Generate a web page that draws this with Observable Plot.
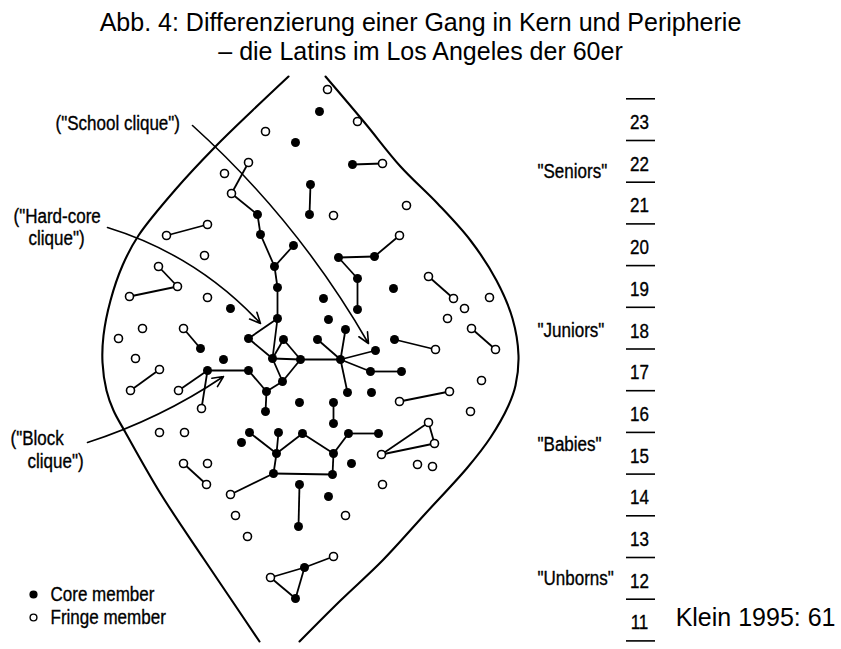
<!DOCTYPE html>
<html><head><meta charset="utf-8">
<script src="https://cdn.jsdelivr.net/npm/d3@7"></script>
<script src="https://cdn.jsdelivr.net/npm/@observablehq/plot@0.6"></script>
<style>
body{margin:0;background:#fff;width:841px;height:649px;overflow:hidden}
#title{font-family:"Liberation Sans",Arial,sans-serif;font-size:25px;line-height:29px;text-align:center;padding-top:8px;height:58px;color:#000}
#chart svg{display:block}
</style></head><body>
<div id="title">Abb. 4: Differenzierung einer Gang in Kern und Peripherie<br>– die Latins im Los Angeles der 60er</div>
<div id="chart"></div>
<script>
// ---- data ----
const core = [
["k1",319,111],["k2",295,142],["k3",352,164],["k4",310,184],["k5",309,214],
["k6",257,214],["k7",260,234],["k8",293,245],["k9",274,266],["k10",277,287],
["k11",230,308],["k12",277,318],["k13",248,338],["k14",283,339],["k15",317,339],
["k16",272,358],["k17",300,359],["k18",223,359],["k19",200,348],["k20",282,381],
["k21",207,370],["k22",248,370],["k23",266,391],["k24",265,411],["k25",299,402],
["k26",338,257],["k27",374,256],["k28",357,278],["k29",357,309],["k30",393,288],
["k31",323,298],["k32",328,319],["k33",345,329],["k35",340,359],["k36",375,350],
["k37",370,371],["k38",401,371],["k39",347,392],["k40",371,392],["k41",333,402],
["k42",394,339],["k43",333,423],["k44",249,432],["k45",278,432],["k46",302,433],
["k47",241,442],["k48",276,453],["k49",273,473],["k50",348,433],["k51",378,433],
["k52",333,453],["k53",332,474],["k54",351,463],["k55",299,484],["k56",298,526],
["k57",328,496],["k58",304,567],["k59",295,598]
];
const fringe = [
["f1",265,131],["f2",248,162],["f3",224,173],["f4",231,193],["f5",166,235],
["f6",207,224],["f7",327,89],["f8",357,121],["f9",382,163],["f10",333,215],
["f11",406,205],["f12",399,235],["f13",204,255],["f14",158,266],["f15",177,286],
["f16",129,296],["f17",207,297],["f18",142,328],["f19",118,338],["f20",183,328],
["f21",135,358],["f22",159,369],["f23",130,390],["f24",178,390],["f25",201,408],
["f26",428,276],["f27",453,298],["f28",489,297],["f29",464,308],["f30",447,318],
["f31",471,328],["f32",495,349],["f33",435,349],["f34",481,380],["f35",449,391],
["f36",399,401],["f37",470,411],["f38",159,432],["f39",184,432],["f40",183,463],
["f41",206,484],["f42",207,463],["f43",230,494],["f44",235,515],["f45",247,536],
["f46",428,422],["f47",434,443],["f48",381,454],["f49",417,464],["f50",432,466],
["f51",382,484],["f52",345,515],["f53",333,556],["f54",270,577]
];
const edges = [
["f2","f4"],["f4","k6"],["k6","k7"],["k7","k9"],["k8","k9"],["k9","k10"],["k10","k12"],
["k12","k13"],["k13","k16"],["k12","k16"],["k16","k14"],["k14","k17"],["k17","k20"],
["k20","k16"],["k16","k17"],["k17","k35"],["k35","k33"],["k35","k15"],["k35","k36"],
["k35","k37"],["k35","k39"],["k37","k38"],["k20","k23"],["k22","k23"],["k21","k22"],
["k23","k24"],["k21","f24"],["k21","f25"],["f5","f6"],["f9","k3"],["k4","k5"],
["f12","k27"],["k26","k27"],["k26","k28"],["k28","k29"],["f14","f15"],["f15","f16"],
["f20","k19"],["f22","f23"],["f26","f27"],["f31","f32"],["f33","k42"],["f35","f36"],
["k44","k48"],["k45","k48"],["k46","k48"],["k46","k52"],["k48","k49"],["k49","k53"],
["k49","f43"],["f40","f41"],["k41","k43"],["k50","k51"],["k50","k52"],["k52","k53"],
["k55","k56"],["f46","f47"],["f47","f48"],["f48","f46"],["f53","k58"],["k58","f54"],
["f54","k59"],["k58","k59"]
];
const lensLeft = [[288,76],[252,110],[215,146],[175,189],[138,235],[122,265],[110,300],
[103,335],[102,362],[106,390],[113,410],[125,432],[160,493],[203,558],[230,598],[259,641]];
const lensRight = [[325,76],[364,122],[400,166],[437,203],[470,240],[496,280],[512,318],
[518,355],[515,385],[508,405],[490,437],[467,467],[425,513],[382,560],[340,600],[299,641]];
const cliqueArrows = [
  {x1:192,y1:125,x2:368,y2:343,bend:9},
  {x1:107,y1:227,x2:260,y2:323,bend:15},
  {x1:87,y1:442,x2:223,y2:376,bend:-8}
];
const cliqueLabels = [
  {text:'("School clique")',x:55,y:123},
  {text:'("Hard-core',x:13,y:216},
  {text:'clique")',x:28,y:238},
  {text:'("Block',x:10,y:438},
  {text:'clique")',x:27,y:461}
];
const ages = [23,22,21,20,19,18,17,16,15,14,13,12,11];
const ageGroups = [
  {label:'"Seniors"',age:21.75},
  {label:'"Juniors"',age:17.95},
  {label:'"Babies"',age:15.2},
  {label:'"Unborns"',age:12}
];
const legendItems = [
  {label:"Core member",y:594,core:true},
  {label:"Fringe member",y:617,core:false}
];
const caption = ["Klein 1995: 61"];

// ---- fonts: a narrow sans imitated by compressing Arial-metric glyphs ----
const figFont = '"Liberation Sans", Arial, sans-serif';
const figSize = 20;
const squeeze = 0.85;

// ---- derived tables ----
const byId = new Map([...core, ...fringe].map(([id,x,y]) => [id,{x,y}]));
const links = edges.map(([a,b]) => ({x1:byId.get(a).x,y1:byId.get(a).y,x2:byId.get(b).x,y2:byId.get(b).y}));
const ageY = d3.scaleLinear().domain([23.5,10.5]).range([98.3,640.4]);
const boundaries = d3.range(ages.length + 1).map(i => ages[0] + 0.5 - i);

const txt = {fontSize:figSize,fontFamily:figFont,fill:"black",stroke:"black",strokeWidth:0.35};
const top0 = 66, H = 649 - top0;
const chart = Plot.plot({
  width:841, height:H, margin:0,
  x:{domain:[0,841], axis:null},
  y:{domain:[649, top0], axis:null},
  style:{background:"white", color:"black"},
  marks:[
    Plot.line(lensLeft,{x:d=>d[0],y:d=>d[1],curve:"catmull-rom",stroke:"black",strokeWidth:2.1}),
    Plot.line(lensRight,{x:d=>d[0],y:d=>d[1],curve:"catmull-rom",stroke:"black",strokeWidth:2.1}),
    ...cliqueArrows.map(a => Plot.arrow([a],{x1:"x1",y1:"y1",x2:"x2",y2:"y2",bend:a.bend,stroke:"black",strokeWidth:1.6,headLength:11,headAngle:50})),
    Plot.link(links,{x1:"x1",y1:"y1",x2:"x2",y2:"y2",stroke:"black",strokeWidth:1.8}),
    Plot.dot(core,{x:d=>d[1],y:d=>d[2],r:4.5,fill:"black",stroke:"none"}),
    Plot.dot(fringe,{x:d=>d[1],y:d=>d[2],r:4,fill:"white",stroke:"black",strokeWidth:1.6}),
    Plot.text(cliqueLabels,{x:"x",y:"y",text:"text",textAnchor:"start",...txt}),
    Plot.ruleY(boundaries,{y:d=>ageY(d),x1:()=>626,x2:()=>655,stroke:"black",strokeWidth:1.6}),
    Plot.text(ages,{x:()=>639,y:d=>ageY(d),dy:3,text:d=>String(d),...txt}),
    Plot.text(ageGroups,{x:()=>537,y:d=>ageY(d.age),text:"label",textAnchor:"start",...txt}),
    Plot.dot(legendItems,{x:()=>33,y:"y",r:3.4,fill:d=>d.core?"black":"white",stroke:"black",strokeWidth:1.4}),
    Plot.text(legendItems,{x:()=>50,y:"y",text:"label",textAnchor:"start",...txt}),
    Plot.text(caption,{frameAnchor:"bottom-right",dx:-6,dy:-24,textAnchor:"end",text:d=>d,fontSize:25,fontFamily:'"Liberation Sans", Arial, sans-serif',fill:"black"})
  ]
});
document.getElementById("chart").appendChild(chart);
// compress the figure's lettering horizontally (narrow typeface of the original)
chart.querySelectorAll('g[font-size="20"] text').forEach(t => {
  const w = t.getComputedTextLength();
  t.setAttribute("textLength", (w * squeeze).toFixed(1));
  t.setAttribute("lengthAdjust", "spacingAndGlyphs");
});
</script>
</body></html>
